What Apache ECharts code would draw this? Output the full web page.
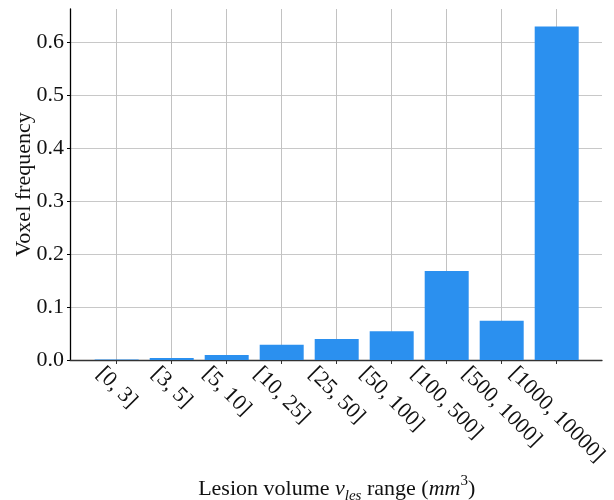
<!DOCTYPE html>
<html>
<head>
<meta charset="utf-8">
<script src="https://cdn.jsdelivr.net/npm/echarts@6/dist/echarts.min.js"></script>
<style>
html,body{margin:0;padding:0;background:#fff;}
#chart{width:614px;height:500px;}
</style>
</head>
<body>
<div id="chart"></div>
<script>
// ---- data ----
const categories = ['[0, 3]', '[3, 5]', '[5, 10]', '[10, 25]', '[25, 50]', '[50, 100]', '[100, 500]', '[500, 1000]', '[1000, 10000]'];
const voxelFrequency = [0.0008, 0.004, 0.0095, 0.029, 0.0395, 0.0545, 0.168, 0.0742, 0.630];
const yTickValues = [0.0, 0.1, 0.2, 0.3, 0.4, 0.5, 0.6];
const yAxisTitle = 'Voxel frequency';

// ---- style / layout ----
const FONT = '"Liberation Serif", "Times New Roman", serif';
const FS = 22;
const AXIS_Y = 360;          // pixel row of y = 0
const PLOT_TOP = 9;
const PLOT_LEFT = 70;
const PLOT_RIGHT = 602;
const Y06 = 42.3;            // pixel row of y = 0.6
const FIRST_C = 116.7, LAST_C = 556.7;
const W = 614, Hh = 500;
const yMaxFrame = 0.6 * (AXIS_Y - PLOT_TOP) / (AXIS_Y - Y06);

// per-label rich styles so each rotated label's bounding box is centred under its tick
const ctx = document.createElement('canvas').getContext('2d');
ctx.font = FS + 'px ' + FONT;
const C45 = Math.SQRT1_2;
const LBL_MARGIN = -60;
const LBL_TOP = 3;
const LINE_H = FS;
const labelRich = {};
categories.forEach((s, i) => {
  const L = ctx.measureText(s).width;
  const d = (LBL_TOP - LBL_MARGIN) / C45;
  const a = (d - (L - LINE_H) / 2) / 2;
  const b = (d + (L - LINE_H) / 2) / 2;
  labelRich['p' + i] = { fontSize: FS, fontFamily: FONT, color: '#111', lineHeight: LINE_H, padding: [2 * b, 0, 0, a] };
});

const chart = echarts.init(document.getElementById('chart'), null, { renderer: 'canvas' });
const gridBottom = Hh - AXIS_Y;
chart.setOption({
  animation: false,
  backgroundColor: '#ffffff',
  textStyle: { fontFamily: FONT },
  grid: [
    { left: PLOT_LEFT, right: W - PLOT_RIGHT, top: PLOT_TOP, bottom: gridBottom, containLabel: false, outerBoundsMode: 'none' },
    { left: PLOT_LEFT, right: W - PLOT_RIGHT, top: Y06, bottom: gridBottom, containLabel: false, outerBoundsMode: 'none' },
    { left: FIRST_C, right: W - LAST_C, top: PLOT_TOP, bottom: gridBottom, containLabel: false, outerBoundsMode: 'none' }
  ],
  xAxis: [
    { gridIndex: 0, type: 'value', min: 0, max: 1,
      axisLine: { show: true, onZero: false, lineStyle: { color: '#333', width: 1.3 } },
      axisTick: { show: false }, axisLabel: { show: false }, splitLine: { show: false } },
    { gridIndex: 1, type: 'value', min: 0, max: 1, show: false },
    { gridIndex: 2, type: 'category', data: categories, boundaryGap: false,
      axisLine: { show: false },
      axisTick: { show: true, length: 4, inside: false, lineStyle: { color: '#333', width: 1 } },
      splitLine: { show: true, lineStyle: { color: '#c2c2c2', width: 1 } },
      axisLabel: { interval: 0, rotate: -45, margin: LBL_MARGIN, align: 'left', verticalAlign: 'top',
        fontSize: FS, fontFamily: FONT, color: '#111', hideOverlap: false,
        formatter: (v) => '{p' + categories.indexOf(v) + '|' + v + '}',
        rich: labelRich },
      name: '{n|Lesion volume }{i|v}{sub|les}{n| range (}{i|mm}{sup|3}{n|)}',
      nameLocation: 'middle', nameGap: 127,
      nameTextStyle: {
        align: 'center', verticalAlign: 'middle', color: '#111', fontFamily: FONT, fontSize: FS,
        rich: {
          n: { fontSize: FS, fontFamily: FONT, lineHeight: 30, verticalAlign: 'middle', color: '#111' },
          i: { fontSize: FS, fontFamily: FONT, fontStyle: 'italic', lineHeight: 30, verticalAlign: 'middle', color: '#111' },
          sub: { fontSize: 15, fontFamily: FONT, fontStyle: 'italic', lineHeight: 17, verticalAlign: 'bottom', color: '#111' },
          sup: { fontSize: 15, fontFamily: FONT, lineHeight: 22, verticalAlign: 'top', color: '#111' }
        }
      }
    }
  ],
  yAxis: [
    { gridIndex: 0, type: 'value', min: 0, max: 1,
      axisLine: { show: true, lineStyle: { color: '#000', width: 1.3 } },
      axisTick: { show: false }, axisLabel: { show: false }, splitLine: { show: false },
      name: yAxisTitle, nameLocation: 'middle', nameRotate: 90, nameGap: 46,
      nameTextStyle: { fontSize: FS, fontFamily: FONT, color: '#111', align: 'center', verticalAlign: 'middle' } },
    { gridIndex: 1, type: 'value', min: 0, max: yTickValues[yTickValues.length - 1], interval: 0.1,
      axisLine: { show: false },
      axisTick: { show: true, length: 3, lineStyle: { color: '#000', width: 1 } },
      axisLabel: { margin: 6, fontSize: FS, fontFamily: FONT, color: '#111',
        formatter: v => v.toFixed(1) },
      splitLine: { show: true, lineStyle: { color: '#c8c8c8', width: 1.2 } } },
    { gridIndex: 2, type: 'value', min: 0, max: yMaxFrame, show: false }
  ],
  series: [{
    type: 'bar',
    xAxisIndex: 2, yAxisIndex: 2,
    data: voxelFrequency,
    barWidth: 44,
    itemStyle: { color: '#2B90EF' },
    z: 3
  }]
});
</script>
</body>
</html>
